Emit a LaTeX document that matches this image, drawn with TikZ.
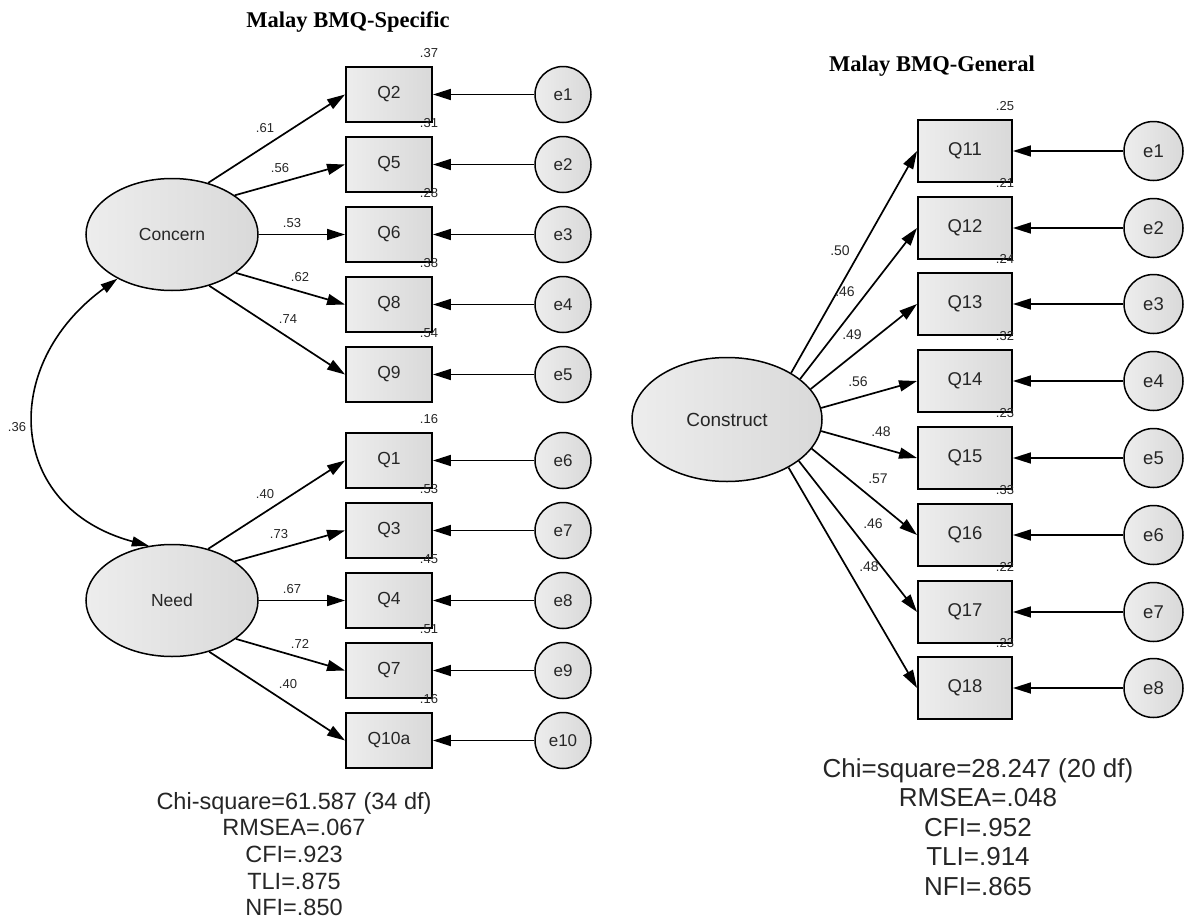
\documentclass[tikz,border=0pt]{standalone}
\usepackage{fontspec}
\setmainfont{Liberation Sans}
\newfontfamily\titlefont{Liberation Serif}
\usetikzlibrary{arrows.meta,shapes.geometric,calc}
\definecolor{fillA}{HTML}{EDEDED}
\definecolor{fillB}{HTML}{D9D9D9}
\definecolor{txt}{HTML}{262626}
\begin{document}
\begin{tikzpicture}[x=1pt,y=1pt,
  box/.style={draw=black, line width=1.9pt, left color=fillA, right color=fillB, inner sep=0pt, text=txt},
  lbox/.style={box, minimum width=86pt, minimum height=55pt, font=\fontsize{17.5}{20}\selectfont},
  rbox/.style={box, minimum width=94pt, minimum height=62pt, font=\fontsize{18.5}{22}\selectfont},
  err/.style={circle, draw=black, line width=1.5pt, left color=fillA, right color=fillB, inner sep=0pt, text=txt},
  lerr/.style={err, minimum size=56pt, font=\fontsize{17}{20}\selectfont},
  rerr/.style={err, minimum size=59pt, font=\fontsize{18.5}{22}\selectfont},
  lat/.style={ellipse, draw=black, line width=1.5pt, left color=fillA, right color=fillB, inner sep=0pt, text=txt},
  arr/.style={line width=1.7pt, -{Triangle[length=18pt,width=11pt]}},
  cov/.style={line width=1.6pt, {Triangle[length=17pt,width=10pt]}-{Triangle[length=17pt,width=10pt]}},
  coef/.style={font=\fontsize{13}{15}\selectfont, text=txt, inner sep=0pt},
  rcoef/.style={font=\fontsize{14}{16}\selectfont, text=txt, inner sep=0pt},
  stat/.style={anchor=base, text=txt, inner sep=0pt},
  ttl/.style={anchor=base, inner sep=0pt, font=\titlefont\bfseries\fontsize{22.5}{26}\selectfont}
]
\useasboundingbox (0,0) rectangle (1184,-921);

% ---------- Left: Malay BMQ-Specific ----------
\node[ttl] (t1) at (348,-27) {Malay BMQ-Specific};

\node[lat, minimum width=172pt, minimum height=112pt, font=\fontsize{17.5}{20}\selectfont] (Concern) at (172,-234.5) {Concern};
\node[lat, minimum width=172pt, minimum height=112pt, font=\fontsize{17.5}{20}\selectfont] (Need) at (172,-600.5) {Need};

\foreach \nm/\y in {2/94.5,5/164.5,6/234.5,8/304.5,9/374.5,1/460.5,3/530.5,4/600.5,7/670.5,10a/740.5}
  \node[lbox] (lq\nm) at (389,-\y) {Q\nm};

\foreach \k/\nm/\y in {1/2/94.5,2/5/164.5,3/6/234.5,4/8/304.5,5/9/374.5,6/1/460.5,7/3/530.5,8/4/600.5,9/7/670.5,10/10a/740.5}{
  \node[lerr] (le\k) at (563,-\y) {e\k};
  \draw[arr] (le\k) -- (lq\nm);
}

\foreach \nm/\ang/\lx/\ly/\val in {2/55/265/128/.61,5/32.6/280/168/.56,6/0/292/223/.53,8/-31.8/300/277/.62,9/-54.6/288/319/.74}{
  \draw[arr] (Concern.\ang) -- (lq\nm.west);
  \node[coef] (lc\nm) at (\lx,-\ly) {\val};
}
\foreach \nm/\ang/\lx/\ly/\val in {1/55/265/494/.40,3/32.6/279/534/.73,4/0/292/589/.67,7/-31.8/300/644/.72,10a/-54.6/288/684/.40}{
  \draw[arr] (Need.\ang) -- (lq\nm.west);
  \node[coef] (lc\nm) at (\lx,-\ly) {\val};
}
\foreach \nm/\val in {2/.37,5/.31,6/.28,8/.38,9/.54,1/.16,3/.53,4/.45,7/.51,10a/.16}
  \node[coef] (lr\nm) at ($(lq\nm.north east)+(-4,13)$) {\val};

\draw[cov] (Concern.219) to[out=216,in=165,looseness=1.4] (Need.113);
\node[coef] (lcov) at (17,-427) {.36};

\node[stat, font=\fontsize{23.5}{27}\selectfont] (ls1) at (294,-809) {Chi-square=61.587 (34 df)};
\node[stat, font=\fontsize{23.5}{27}\selectfont] (ls2) at (294,-835.7) {RMSEA=.067};
\node[stat, font=\fontsize{23.5}{27}\selectfont] (ls3) at (294,-862.4) {CFI=.923};
\node[stat, font=\fontsize{23.5}{27}\selectfont] (ls4) at (294,-889.1) {TLI=.875};
\node[stat, font=\fontsize{23.5}{27}\selectfont] (ls5) at (294,-915.8) {NFI=.850};

% ---------- Right: Malay BMQ-General ----------
\node[ttl] (t2) at (932,-71) {Malay BMQ-General};

\node[lat, minimum width=190pt, minimum height=124pt, font=\fontsize{19}{22}\selectfont] (Construct) at (727,-419.5) {Construct};

\foreach \k/\nm/\y in {1/11/151,2/12/228,3/13/304,4/14/381,5/15/458,6/16/535,7/17/612,8/18/688}{
  \node[rbox] (rq\nm) at (965,-\y) {Q\nm};
  \node[rerr] (re\k) at (1153.5,-\y) {e\k};
  \draw[arr] (re\k) -- (rq\nm);
}
\foreach \nm/\ang/\lx/\ly/\val in {11/36.7/840/251/.50,12/29.3/845/292/.46,13/20/852/335/.49,14/7/858/382/.56,15/-7/881/432/.48,16/-19/878/479/.57,17/-30/873/524/.46,18/-38/869/567/.48}{
  \draw[arr] (Construct.\ang) -- (rq\nm.west);
  \node[rcoef] (rc\nm) at (\lx,-\ly) {\val};
}
\foreach \nm/\val in {11/.25,12/.21,13/.24,14/.32,15/.23,16/.33,17/.22,18/.23}
  \node[coef] (rr\nm) at ($(rq\nm.north east)+(-8,13)$) {\val};

\node[stat, font=\fontsize{26}{29}\selectfont] (rs1) at (978,-777) {Chi=square=28.247 (20 df)};
\node[stat, font=\fontsize{26}{29}\selectfont] (rs2) at (978,-806.5) {RMSEA=.048};
\node[stat, font=\fontsize{26}{29}\selectfont] (rs3) at (978,-836) {CFI=.952};
\node[stat, font=\fontsize{26}{29}\selectfont] (rs4) at (978,-865.5) {TLI=.914};
\node[stat, font=\fontsize{26}{29}\selectfont] (rs5) at (978,-895) {NFI=.865};
\end{tikzpicture}
\end{document}
